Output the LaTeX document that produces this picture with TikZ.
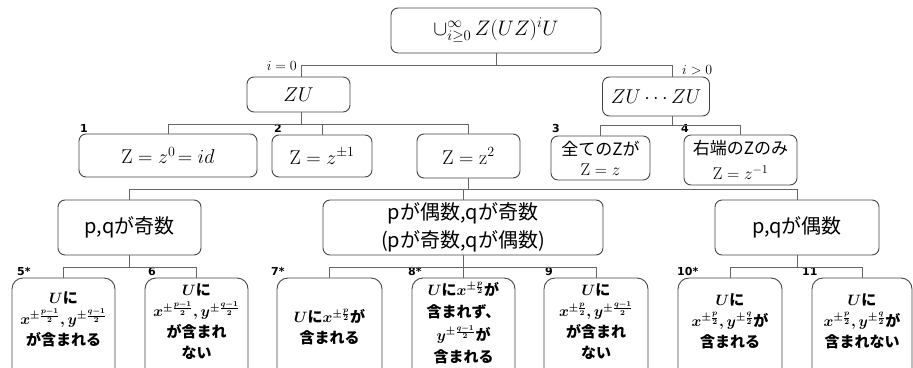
\RequirePackage{fix-cm}
\documentclass[tikz,border=0pt]{standalone}
\usepackage{amsmath}
\usepackage{fontspec}
\newfontfamily\jp{Noto Sans CJK JP}
\newfontfamily\numf{DejaVu Sans}
\definecolor{boxc}{HTML}{454545}
\definecolor{linec}{HTML}{666666}
\begin{document}
\begin{tikzpicture}[x=1pt,y=-1pt]
\tikzset{
 bx/.style={draw=boxc, line width=0.9pt, rounded corners=7pt, inner sep=0pt, align=center},
 bb/.style={bx, rounded corners=11pt, minimum height=115pt},
 ln/.style={draw=linec, line width=0.9pt},
 num/.style={font=\numf\bfseries\fontsize{11}{11}\selectfont, anchor=west, inner sep=0pt},
 mid/.style={bx, minimum height=55pt, font=\jp\fontsize{20}{28}\selectfont},
 bt/.style={font=\jp\bfseries\fontsize{15}{21}\selectfont\boldmath, align=center, inner sep=0pt},
 mf/.style={font=\fontsize{20}{24}\selectfont},
}
\path[use as bounding box] (0,0) rectangle (913,367);
\clip (0,0) rectangle (913,367);

% top
\node[bx, minimum width=210pt, minimum height=45pt, font=\fontsize{21}{24}\selectfont] (root) at (496,30.5) {$\cup_{i\geq 0}^{\infty}\, Z(UZ)^iU$};
\node[bx, mf, minimum width=103pt, minimum height=35pt] (zu) at (298.5,94.5) {$ZU$};
\node[bx, mf, minimum width=107pt, minimum height=39pt] (zuzu) at (656,96.5) {$ZU\cdots ZU$};
\node[font=\fontsize{14}{14}\selectfont, anchor=east, inner sep=0pt] (l0) at (297,66) {$i=0$};
\node[font=\fontsize{14}{14}\selectfont, anchor=west, inner sep=0pt] (l1) at (682,70) {$i>0$};

% row 2
\node[bx, mf, minimum width=178pt, minimum height=43pt] (z0) at (168,155.5) {$\mathrm{Z}=z^0\!=id$};
\node[bx, mf, minimum width=100pt, minimum height=42pt] (z1) at (322,156) {$\mathrm{Z}=z^{\pm1}$};
\node[bx, mf, minimum width=103pt, minimum height=44pt] (z2) at (468.5,156) {$\mathrm{Z}=\mathrm{z}^2$};
\node[bx, minimum width=99pt, minimum height=44pt, font=\jp\fontsize{17}{20}\selectfont] (ze) at (600.5,158) {全てのZが\\$\mathrm{Z}=z$};
\node[bx, minimum width=113pt, minimum height=50pt, font=\jp\fontsize{17}{25}\selectfont] (zr) at (740.5,160) {右端のZのみ\\$\mathrm{Z}=z^{-1}$};
\node[num] (n1) at (80,128) {1};
\node[num] (n2) at (274,128) {2};
\node[num] (n3) at (552,128) {3};
\node[num] (n4) at (681,128) {4};

% row 3
\node[mid, minimum width=143pt] (m1) at (129.5,227.5) {p,qが奇数};
\node[mid, minimum width=280pt] (m2) at (463,227.5) {pが偶数,qが奇数\\(pが奇数,qが偶数)};
\node[mid, minimum width=164pt] (m3) at (797,227.5) {p,qが偶数};

% row 4
\node[bb, minimum width=103pt] (b5) at (63.5,335.5) {};
\node[bb, minimum width=103pt] (b6) at (196.5,335.5) {};
\node[bb, minimum width=105pt] (b7) at (329.5,335.5) {};
\node[bb, minimum width=103pt] (b8) at (463.5,335.5) {};
\node[bb, minimum width=104pt] (b9) at (596,335.5) {};
\node[bb, minimum width=104pt] (b10) at (730,335.5) {};
\node[bb, minimum width=100pt] (b11) at (862,335.5) {};

\node[bt] (t5) at (63.5,319) {$U$に\\$x^{\pm\frac{p-1}{2}},y^{\pm\frac{q-1}{2}}$\\が含まれる};
\node[bt] (t6) at (196.5,322) {$U$に\\$x^{\pm\frac{p-1}{2}},y^{\pm\frac{q-1}{2}}$\\が含まれ\\ない};
\node[bt] (t7) at (329.5,327) {$U$に$x^{\pm\frac{p}{2}}$が\\含まれる};
\node[bt, font=\jp\bfseries\fontsize{15}{22.5}\selectfont\boldmath] (t8) at (463.5,323) {$U$に$x^{\pm\frac{p}{2}}$が\\含まれず、\\$y^{\pm\frac{q-1}{2}}$が\\含まれる};
\node[bt] (t9) at (596,322) {$U$に\\$x^{\pm\frac{p}{2}},y^{\pm\frac{q-1}{2}}$\\が含まれ\\ない};
\node[bt] (t10) at (730,321) {$U$に\\$x^{\pm\frac{p}{2}},y^{\pm\frac{q}{2}}$が\\含まれる};
\node[bt] (t11) at (862,321) {$U$に\\$x^{\pm\frac{p}{2}},y^{\pm\frac{q}{2}}$が\\含まれない};

\node[num] (n5) at (17,271) {5*};
\node[num] (n6) at (148,271) {6};
\node[num] (n7) at (271,271) {7*};
\node[num] (n8) at (408,271) {8*};
\node[num] (n9) at (545,271) {9};
\node[num] (n10) at (677,271) {10*};
\node[num] (n11) at (802,271) {11};

% connectors
\draw[ln] (root.south) -- ++(0,12) coordinate (r1);
\draw[ln] (r1) -| ([xshift=2.5pt]zu.north);
\draw[ln] (r1) -| ([xshift=16pt]zuzu.north);

\draw[ln] ([xshift=2.5pt]zu.south) -- ++(0,12) coordinate (a);
\draw[ln] (a) -| (z0.north);
\draw[ln] (a) -| (z1.north);
\draw[ln] (a) -| (z2.north);

\draw[ln] ([xshift=16pt]zuzu.south) -- ++(0,9) coordinate (b);
\draw[ln] (b) -| (ze.north);
\draw[ln] (b) -| (zr.north);

\draw[ln] (z2.south) -- ++(0,11) coordinate (c);
\draw[ln] (c) -| (m1.north);
\draw[ln] (c) -| (m2.north);
\draw[ln] (c) -| (m3.north);

\draw[ln] (m1.south) -- ++(0,12) coordinate (d1);
\draw[ln] (d1) -| (b5.north);
\draw[ln] (d1) -| (b6.north);
\draw[ln] (m2.south) -- ++(0,12) coordinate (d2);
\draw[ln] (d2) -| (b7.north);
\draw[ln] (d2) -| (b8.north);
\draw[ln] (d2) -| (b9.north);
\draw[ln] (m3.south) -- ++(0,12) coordinate (d3);
\draw[ln] (d3) -| (b10.north);
\draw[ln] (d3) -| (b11.north);
\end{tikzpicture}
\end{document}
